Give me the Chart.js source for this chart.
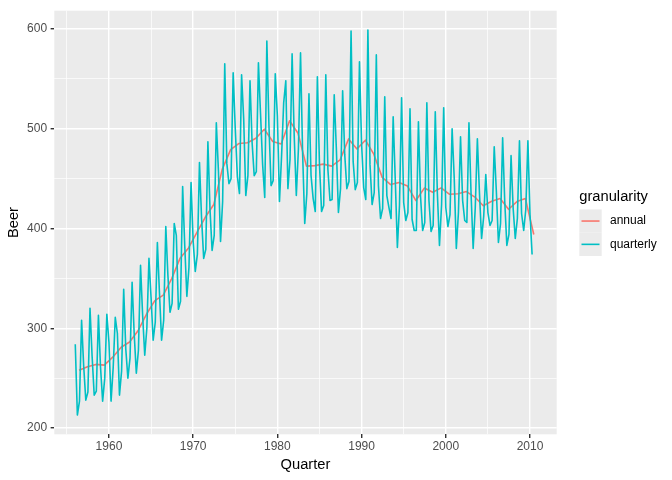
<!DOCTYPE html>
<html>
<head>
<meta charset="utf-8">
<script src="https://cdn.jsdelivr.net/npm/chart.js@4.4.1/dist/chart.umd.min.js"></script>
<style>
  html, body { margin: 0; padding: 0; background: #ffffff; }
  canvas { display: block; }
</style>
</head>
<body>
<canvas id="c" width="672" height="480"></canvas>
<script>
// ---- data ----
const startYear = 1956;
const quarterlyBeer = [
  284,213,227,308, 262,228,236,320, 272,233,237,313, 261,227,250,314,
  286,227,260,311, 295,233,257,339, 279,250,270,346, 294,255,278,363,
  313,273,300,370, 331,288,306,386, 335,288,308,402, 353,316,325,405,
  393,319,327,442, 383,332,361,446, 387,357,374,466, 410,370,379,487,
  419,378,393,506, 458,387,427,565, 465,445,450,556, 500,452,435,554,
  510,433,453,548, 486,453,457,566, 515,464,431,588, 503,443,448,555,
  513,427,473,526, 548,440,469,575, 493,433,480,576, 475,405,435,535,
  453,430,417,552, 464,417,423,554, 459,428,429,534, 481,416,440,538,
  474,440,447,598, 467,439,446,567, 485,441,429,599, 464,424,436,574,
  443,410,420,532, 433,421,410,512, 449,381,423,531, 426,408,416,520,
  409,398,398,507, 432,398,406,526, 428,397,403,517, 435,383,424,521,
  421,402,414,500, 451,380,416,492, 428,408,406,506, 435,380,421,490,
  435,390,412,454, 416,403,408,482, 438,386,405,491, 427,383,394,473,
  420,390,410,488, 415,398,419,488, 414,374
];
const annualBeer = [
  258, 261.5, 263.75, 263, 271, 281, 286.25, 297.5, 314, 327.75,
  333.25, 349.75, 370.25, 380.5, 396, 411.5, 424, 459.25, 479, 485.25,
  486, 490.5, 499.5, 487.25, 484.75, 508, 495.5, 462.5, 463, 464.5,
  462.5, 468.75, 489.75, 479.75, 488.5, 474.5, 451.25, 444, 446, 442.5,
  428, 440.5, 436.25, 440.75, 434.25, 434.75, 437, 431.5, 422.75, 427.25,
  430, 419.25, 427, 430, 394
];
const xMajorTicks = [1960, 1970, 1980, 1990, 2000, 2010];
const xMinorTicks = [1955, 1965, 1975, 1985, 1995, 2005];
const yMajorTicks = [200, 300, 400, 500, 600];
const yMinorTicks = [250, 350, 450, 550];
const seriesNames = ['annual', 'quarterly'];
const seriesColors = ['#F8766D', '#00BFC4'];

// ---- build points ----
const quarterlyPts = quarterlyBeer.map((v, i) => ({ x: startYear + i / 4, y: v }));
const annualPts = annualBeer.map((v, i) => ({ x: startYear + i + 0.45, y: v }));

const FONT = '"Liberation Sans", Arial, Helvetica, sans-serif';
const LW = 1.42;
const DLW = 1.6;

const isMajorX = v => xMajorTicks.includes(v);
const isMajorY = v => yMajorTicks.includes(v);

const panelBg = {
  id: 'panelBg',
  beforeDraw(chart) {
    const a = chart.chartArea, ctx = chart.ctx;
    ctx.save();
    ctx.fillStyle = '#EBEBEB';
    ctx.fillRect(a.left, a.top, a.right - a.left, a.bottom - a.top);
    ctx.restore();
  }
};

const decorations = {
  id: 'decorations',
  afterDraw(chart) {
    const ctx = chart.ctx, a = chart.chartArea;
    ctx.save();
    ctx.fillStyle = '#000000';
    ctx.font = '14.7px ' + FONT;
    // x title
    ctx.textAlign = 'center';
    ctx.textBaseline = 'alphabetic';
    ctx.fillText('Quarter', (a.left + a.right) / 2, 468.8);
    // y title
    ctx.save();
    ctx.translate(17.6, (a.top + a.bottom) / 2);
    ctx.rotate(-Math.PI / 2);
    ctx.fillText('Beer', 0, 0);
    ctx.restore();
    // legend
    ctx.textAlign = 'left';
    ctx.fillText('granularity', 579.3, 200.7);
    const keyX = 579.3, keyW = 22.4, keyH = 23.3, keyY0 = 209.4;
    for (let i = 0; i < seriesNames.length; i++) {
      const ky = keyY0 + i * keyH;
      ctx.fillStyle = '#EBEBEB';
      ctx.fillRect(keyX, ky, keyW, keyH);
      ctx.strokeStyle = seriesColors[i];
      ctx.lineWidth = DLW;
      ctx.beginPath();
      ctx.moveTo(keyX + 2.2, ky + keyH / 2);
      ctx.lineTo(keyX + keyW - 2.2, ky + keyH / 2);
      ctx.stroke();
      ctx.fillStyle = '#000000';
      ctx.font = '12px ' + FONT;
      ctx.textBaseline = 'middle';
      ctx.fillText(seriesNames[i], 610, ky + keyH / 2);
    }
    ctx.restore();
  }
};

new Chart(document.getElementById('c'), {
  type: 'line',
  data: {
    datasets: [
      {
        label: seriesNames[1], data: quarterlyPts, borderColor: seriesColors[1],
        borderWidth: DLW, pointRadius: 0, tension: 0, fill: false, order: 1,
        borderJoinStyle: 'round'
      },
      {
        label: seriesNames[0], data: annualPts, borderColor: seriesColors[0],
        borderWidth: DLW, pointRadius: 0, tension: 0, fill: false, order: 2,
        borderJoinStyle: 'round'
      }
    ]
  },
  options: {
    responsive: false,
    animation: false,
    events: [],
    layout: { padding: { top: 6.7, right: 115.3, left: 0, bottom: 0 } },
    plugins: { legend: { display: false }, tooltip: { enabled: false } },
    scales: {
      x: {
        type: 'linear',
        min: 1953.51,
        max: 2013.17,
        afterBuildTicks: s => { s.ticks = [...xMinorTicks, ...xMajorTicks].sort((p, q) => p - q).map(v => ({ value: v })); },
        afterFit: s => { s.height = 45.7; },
        ticks: {
          autoSkip: false, maxRotation: 0, minRotation: 0, padding: 2,
          color: '#4D4D4D', font: { family: FONT, size: 12 },
          callback: v => isMajorX(v) ? String(v) : ''
        },
        grid: {
          color: '#FFFFFF',
          lineWidth: c => isMajorX(c.tick.value) ? LW : LW / 2,
          drawTicks: true,
          tickLength: 3.67,
          tickWidth: LW,
          tickColor: c => isMajorX(c.tick.value) ? '#333333' : 'rgba(0,0,0,0)'
        },
        border: { display: false }
      },
      y: {
        type: 'linear',
        min: 193.7,
        max: 618.3,
        afterBuildTicks: s => { s.ticks = [...yMinorTicks, ...yMajorTicks].sort((p, q) => p - q).map(v => ({ value: v })); },
        afterFit: s => { s.width = 54.3; },
        ticks: {
          autoSkip: false, padding: 3.5,
          color: '#4D4D4D', font: { family: FONT, size: 12 },
          callback: v => isMajorY(v) ? String(v) : ''
        },
        grid: {
          color: '#FFFFFF',
          lineWidth: c => isMajorY(c.tick.value) ? LW : LW / 2,
          drawTicks: true,
          tickLength: 3.67,
          tickWidth: LW,
          tickColor: c => isMajorY(c.tick.value) ? '#333333' : 'rgba(0,0,0,0)'
        },
        border: { display: false }
      }
    }
  },
  plugins: [panelBg, decorations]
});
</script>
</body>
</html>
